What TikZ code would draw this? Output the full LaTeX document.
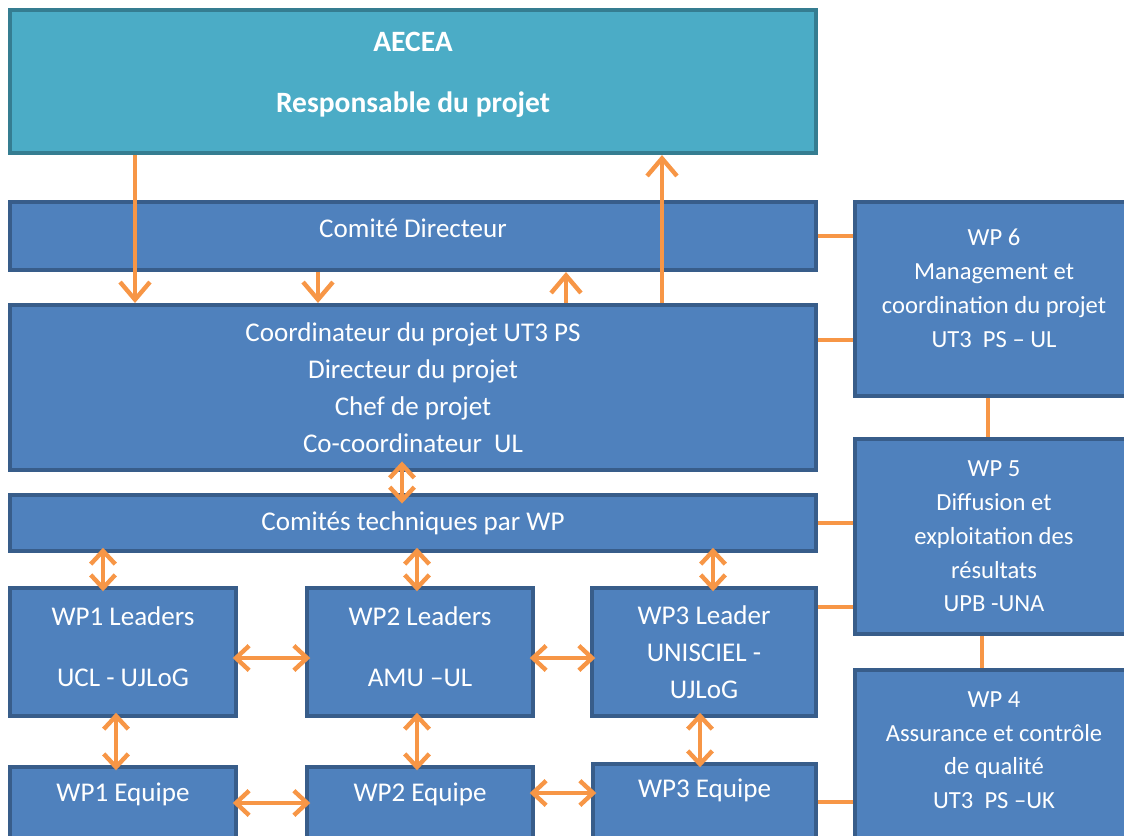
\documentclass[tikz,border=0pt]{standalone}
\usepackage{fontspec}
\setmainfont{Carlito}
\usetikzlibrary{arrows.meta,calc}
\definecolor{cyanfill}{HTML}{4BACC6}
\definecolor{cyanline}{HTML}{357D91}
\definecolor{wpfill}{HTML}{4F81BD}
\definecolor{wpline}{HTML}{385D8A}
\definecolor{arrorange}{HTML}{F79646}

\begin{document}
\begin{tikzpicture}[x=0.02cm, y=-0.02cm,
  box/.style={draw=wpline, fill=wpfill, line width=2.3pt, text=white, inner sep=0pt, align=center, font=\fontsize{15.4}{21}\selectfont},
  side/.style={box, minimum width=5.56cm, font=\fontsize{14}{19.2}\selectfont},
  lnk/.style={draw=arrorange, line width=2.5pt},
  arr/.style={lnk, -{Straight Barb[length=10pt,width=17pt]}},
  dbl/.style={lnk, {Straight Barb[length=7.5pt,width=14pt]}-{Straight Barb[length=7.5pt,width=14pt]}, shorten <=-3pt, shorten >=-3pt}]
\useasboundingbox (0,0) rectangle (1124,835);

% main column
\node[box, draw=cyanline, fill=cyanfill, minimum width=16.12cm, minimum height=2.86cm, text depth=10.5pt,
  font=\fontsize{16.8}{35}\selectfont\bfseries] (aecea) at (413,81.5) {AECEA\\Responsable du projet};
\node[box, minimum width=16.12cm, minimum height=1.36cm, text depth=9pt] (cdir) at (413,236) {Comité Directeur};
\node[box, minimum width=16.12cm, minimum height=3.3cm] (coord) at (413,387.5)
  {Coordinateur du projet UT3 PS\\Directeur du projet\\Chef de projet\\Co-coordinateur~ UL};
\node[box, minimum width=16.12cm, minimum height=1.12cm] (ctech) at (413,523) {Comités techniques par WP};

% work packages
\node[box, minimum width=4.52cm, minimum height=2.56cm, text depth=6.2pt] (wp1l) at (123,652) {WP1 Leaders\\[13.6pt]UCL - UJLoG};
\node[box, minimum width=4.52cm, minimum height=2.56cm, text depth=6.2pt] (wp2l) at (420,652) {WP2 Leaders\\[13.6pt]AMU --UL};
\node[box, minimum width=4.48cm, minimum height=2.56cm] (wp3l) at (704,652) {WP3 Leader\\UNISCIEL -\\UJLoG};
\node[box, minimum width=4.52cm, minimum height=1.62cm, text depth=17pt] (wp1e) at (123,807.5) {WP1 Equipe};
\node[box, minimum width=4.52cm, minimum height=1.62cm, text depth=17pt] (wp2e) at (420,807.5) {WP2 Equipe};
\node[box, minimum width=4.46cm, minimum height=1.68cm, text depth=20pt] (wp3e) at (704.5,806) {WP3 Equipe};

% right column
\node[side, minimum height=3.88cm, text depth=12.4pt] (wp6) at (994,299)
  {WP 6\\Management et\\coordination du projet\\UT3~ PS -- UL};
\node[side, minimum height=3.9cm] (wp5) at (994,536.5)
  {WP 5\\Diffusion et\\exploitation des\\résultats\\UPB -UNA};
\node[side, minimum height=3.56cm, text depth=10.2pt] (wp4) at (994,759)
  {WP 4\\Assurance et contrôle\\de qualité\\UT3~ PS --UK};

% plain links
\draw[lnk] (cdir.east) -- (cdir.east -| wp6.west);
\draw[lnk] ([yshift=0.95cm]coord.east) -- ([yshift=0.95cm]coord.east -| wp6.west);
\draw[lnk] (ctech.east) -- (ctech.east -| wp5.west);
\draw[lnk] ([yshift=0.9cm]wp3l.east) -- ([yshift=0.9cm]wp3l.east -| wp5.west);
\draw[lnk] ([yshift=0.08cm]wp3e.east) -- ([yshift=0.08cm]wp3e.east -| wp4.west);
\draw[lnk] ([xshift=-0.12cm]wp6.south) -- ([xshift=-0.12cm]wp5.north);
\draw[lnk] ([xshift=-0.24cm]wp5.south) -- ([xshift=-0.24cm]wp4.north);

% arrows
\foreach \x/\a/\b in {135/aecea/coord, 318/cdir/coord}
  \draw[arr] (\x,0 |- \a.south) -- (\x,0 |- \b.north);
\foreach \x/\a/\b in {566/coord/cdir, 662/coord/aecea}
  \draw[arr] (\x,0 |- \a.north) -- (\x,0 |- \b.south);
\draw[dbl, shorten <=-6pt, shorten >=-6pt] (402,0 |- coord.south) -- (402,0 |- ctech.north);
\foreach \x/\a/\b in {103/ctech/wp1l, 417/ctech/wp2l, 713/ctech/wp3l,
                      116/wp1l/wp1e, 417/wp2l/wp2e, 700/wp3l/wp3e}
  \draw[dbl] (\x,0 |- \a.south) -- (\x,0 |- \b.north);
\foreach \y/\a/\b in {658/wp1l/wp2l, 658/wp2l/wp3l, 803/wp1e/wp2e, 793/wp2e/wp3e}
  \draw[dbl] (\a.east |- 0,\y) -- (\b.west |- 0,\y);

\end{tikzpicture}
\end{document}
